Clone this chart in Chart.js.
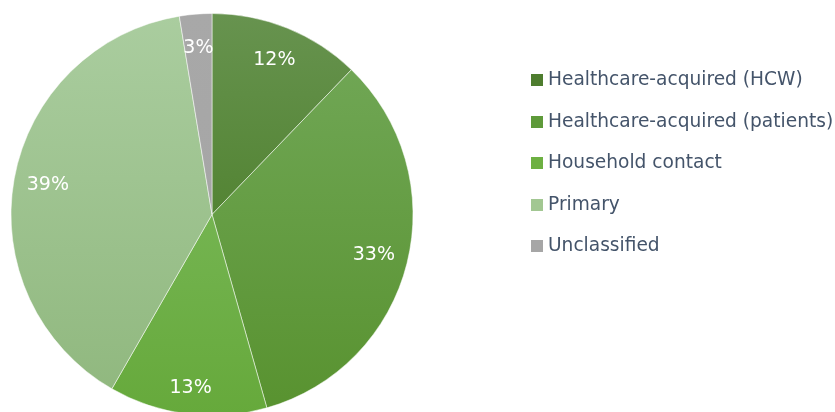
<!DOCTYPE html>
<html>
<head>
<meta charset="utf-8">
<script src="https://cdn.jsdelivr.net/npm/chart.js@4/dist/chart.umd.min.js"></script>
<style>
    body { margin: 0; background: #fff; }
    #wrap { position: relative; width: 835px; height: 412px; overflow: hidden; }
    #legend { position: absolute; left: 531px; top: 0; font-family: "DejaVu Sans", sans-serif; font-size: 18.6px; color: #44546a; }
    .item { position: absolute; left: 0; white-space: nowrap; height: 24px; line-height: 24px; }
    .box { display: inline-block; width: 12px; height: 12px; margin-right: 5px; vertical-align: -1px; }
</style>
</head>
<body>
<div id="wrap">
    <canvas id="myChart" width="835" height="412"></canvas>
    <div id="legend"></div>
</div>
<script>
// categories and values (share of cases, %)
var categories = ["Healthcare-acquired (HCW)", "Healthcare-acquired (patients)", "Household contact", "Primary", "Unclassified"];
var values = [12.2, 33.4, 12.7, 39.1, 2.6];

// gradient stops per slice (top, bottom) and legend swatch colour
var topColors = ["#67934f", "#73a95a", "#82bf66", "#aacd9f", "#a8a8a8"];
var bottomColors = ["#3f7518", "#58922f", "#66a93b", "#8fb77d", "#a4a4a4"];
var legendColors = ["#4e7d2f", "#5e9a3a", "#6db042", "#a2c792", "#a6a6a6"];

var pieRadius = 201;

// legend (html text)
var legend = document.getElementById("legend");
var rowTops = [67, 109, 150, 192, 233];
for (var i = 0; i < categories.length; i++) {
    var div = document.createElement("div");
    div.className = "item";
    div.style.top = rowTops[i] + "px";
    div.innerHTML = '<span class="box" style="background:' + legendColors[i] + '"></span>' + categories[i];
    legend.appendChild(div);
}

function sliceFill(ctx) {
    var chart = ctx.chart;
    var area = chart.chartArea;
    var i = ctx.dataIndex;
    if (!area) {
        return legendColors[i];
    }
    var cy = (area.top + area.bottom) / 2;
    var g = chart.ctx.createLinearGradient(0, cy - pieRadius, 0, cy + pieRadius);
    g.addColorStop(0, topColors[i]);
    g.addColorStop(1, bottomColors[i]);
    return g;
}

// percentage labels inside the slices
var pctLabels = {
    id: "pctLabels",
    afterDatasetsDraw: function (chart) {
        var c = chart.ctx;
        var meta = chart.getDatasetMeta(0);
        var total = values.reduce(function (a, b) { return a + b; }, 0);
        c.save();
        c.fillStyle = "#ffffff";
        c.font = "19px 'DejaVu Sans'";
        c.textAlign = "center";
        c.textBaseline = "middle";
        meta.data.forEach(function (arc, i) {
            var mid = (arc.startAngle + arc.endAngle) / 2;
            var r = arc.outerRadius * (i == 2 ? 0.87 : 0.83);
            var x = arc.x + Math.cos(mid) * r;
            var y = arc.y + Math.sin(mid) * r;
            c.fillText(Math.round(values[i] / total * 100) + "%", x, y);
        });
        c.restore();
    }
};

var myChart = new Chart(document.getElementById("myChart").getContext("2d"), {
    type: "pie",
    data: {
        labels: categories,
        datasets: [{
            data: values,
            backgroundColor: sliceFill,
            borderColor: "rgba(255,255,255,0.5)",
            borderWidth: 1
        }]
    },
    options: {
        responsive: false,
        animation: false,
        radius: pieRadius,
        layout: { padding: { top: 17, left: 0, right: 411, bottom: 0 } },
        plugins: {
            legend: { display: false },
            tooltip: { enabled: false }
        }
    },
    plugins: [pctLabels]
});
</script>
</body>
</html>
